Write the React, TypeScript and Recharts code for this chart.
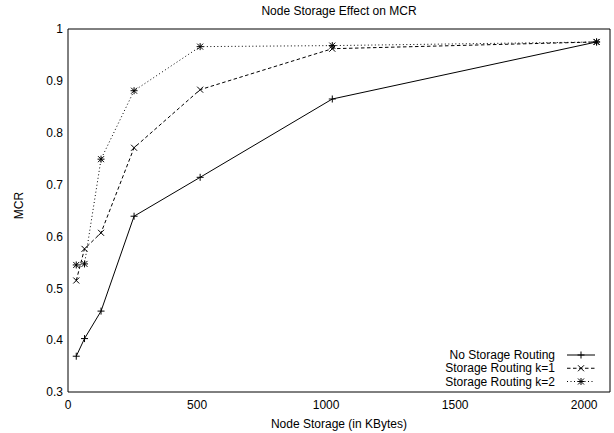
import React from 'react';
import { LineChart, Line, XAxis, YAxis, Legend } from 'recharts';

// node storage sizes (KBytes)
const storage = [32, 64, 128, 256, 512, 1024, 2048];
const noRouting = [0.369, 0.403, 0.456, 0.639, 0.714, 0.865, 0.975];
const routingK1 = [0.515, 0.576, 0.607, 0.771, 0.883, 0.962, 0.975];
const routingK2 = [0.545, 0.547, 0.749, 0.881, 0.966, 0.968, 0.975];

const xTicks = [0, 500, 1000, 1500, 2000];
const yTicks = [0.3, 0.4, 0.5, 0.6, 0.7, 0.8, 0.9, 1];
const xDomain = [0, 2100];
const yDomain = [0.3, 1];

const data = storage.map((s, i) => ({
  storage: s,
  none: noRouting[i],
  k1: routingK1[i],
  k2: routingK2[i],
}));

const FONT = '"Liberation Sans", Arial, Helvetica, sans-serif';

const drawPlus = (cx: number, cy: number, key?: any) => (
  <g key={key}>
    <line x1={cx - 3.5} x2={cx + 3.5} y1={cy} y2={cy} stroke="#000" />
    <line x1={cx} x2={cx} y1={cy - 3.5} y2={cy + 3.5} stroke="#000" />
  </g>
);

const drawCross = (cx: number, cy: number, key?: any) => (
  <g key={key}>
    <line x1={cx - 3} x2={cx + 3} y1={cy - 3} y2={cy + 3} stroke="#000" />
    <line x1={cx - 3} x2={cx + 3} y1={cy + 3} y2={cy - 3} stroke="#000" />
  </g>
);

const drawStar = (cx: number, cy: number, key?: any) => (
  <g key={key}>
    {drawPlus(cx, cy)}
    {drawCross(cx, cy)}
  </g>
);

// each series sits on its own pair of axes (all share the same domain),
// so the mirrored frame axes have data and draw the gnuplot-style box
const series = [
  { key: 'none', name: 'No Storage Routing', dash: undefined as string | undefined, marker: drawPlus, xId: 'main', yId: 'main' },
  { key: 'k1', name: 'Storage Routing k=1', dash: '3.5 2.5', marker: drawCross, xId: 'bottomFrame', yId: 'leftFrame' },
  { key: 'k2', name: 'Storage Routing k=2', dash: '1 2.5', marker: drawStar, xId: 'topFrame', yId: 'rightFrame' },
];

const renderLegend = (props: any) => {
  const payload = props.payload || [];
  return (
    <svg width={300} height={42} style={{ fontFamily: FONT }}>
      {payload.map((p: any, i: number) => {
        const s = series.find((x) => x.name === p.value) || series[i];
        const y = 7 + 13.25 * i;
        return (
          <g key={s.key}>
            <text x={255} y={y} textAnchor="end" dominantBaseline="central" fontSize={12} fill="#000">
              {s.name}
            </text>
            <line x1={267} x2={295} y1={y} y2={y} stroke="#000" strokeDasharray={s.dash} />
            {s.marker(281, y)}
          </g>
        );
      })}
    </svg>
  );
};

export default function App() {
  return (
    <div style={{ position: 'absolute', left: 0, top: 0, width: 614, height: 433, background: '#fff', fontFamily: FONT }}>
      <div
        style={{
          position: 'absolute',
          left: 68,
          width: 542,
          top: 4,
          lineHeight: '14px',
          fontSize: 12,
          textAlign: 'center',
          color: '#000',
        }}
      >
        Node Storage Effect on MCR
      </div>
      <LineChart
        width={614}
        height={433}
        data={data}
        margin={{ top: 29, right: 4, bottom: 0, left: 0 }}
        style={{ fontFamily: FONT }}
      >
        {/* labelled axes */}
        <XAxis
          xAxisId="main"
          dataKey="storage"
          type="number"
          domain={xDomain}
          ticks={xTicks}
          allowDataOverflow
          height={41}
          axisLine={false}
          tickLine={false}
          tickSize={0}
          tickMargin={8}
          tick={{ fill: '#000', fontSize: 12 }}
          label={{ value: 'Node Storage (in KBytes)', position: 'insideBottom', offset: 5, fill: '#000', fontSize: 12 }}
        />
        <YAxis
          yAxisId="main"
          type="number"
          domain={yDomain}
          ticks={yTicks}
          allowDataOverflow
          width={68}
          axisLine={false}
          tickLine={false}
          tickSize={0}
          tickMargin={5}
          tick={{ fill: '#000', fontSize: 12 }}
          label={{
            value: 'MCR',
            angle: -90,
            position: 'insideLeft',
            offset: 19,
            dy: -5,
            fill: '#000',
            fontSize: 12,
            style: { textAnchor: 'middle' },
          }}
        />
        {/* frame axes with inward ticks */}
        <XAxis
          xAxisId="bottomFrame"
          dataKey="storage"
          orientation="bottom"
          mirror
          type="number"
          domain={xDomain}
          ticks={xTicks}
          allowDataOverflow
          height={1}
          stroke="#000"
          tickSize={6}
          tick={false}
        />
        <XAxis
          xAxisId="topFrame"
          dataKey="storage"
          orientation="top"
          mirror
          type="number"
          domain={xDomain}
          ticks={xTicks}
          allowDataOverflow
          height={1}
          stroke="#000"
          tickSize={6}
          tick={false}
        />
        <YAxis
          yAxisId="leftFrame"
          orientation="left"
          mirror
          type="number"
          domain={yDomain}
          ticks={yTicks}
          allowDataOverflow
          width={1}
          stroke="#000"
          tickSize={6}
          tick={false}
        />
        <YAxis
          yAxisId="rightFrame"
          orientation="right"
          mirror
          type="number"
          domain={yDomain}
          ticks={yTicks}
          allowDataOverflow
          width={1}
          stroke="#000"
          tickSize={6}
          tick={false}
        />
        <Legend
          layout="vertical"
          align="center"
          verticalAlign="middle"
          content={renderLegend}
          wrapperStyle={{ left: 300, top: 348, width: 300, height: 42 }}
        />
        {series.map((s) => (
          <Line
            key={s.key}
            xAxisId={s.xId}
            yAxisId={s.yId}
            type="linear"
            dataKey={s.key}
            name={s.name}
            stroke="#000"
            strokeWidth={1}
            strokeDasharray={s.dash}
            dot={(p: any) => s.marker(p.cx, p.cy, p.index)}
            activeDot={false}
            legendType="line"
            isAnimationActive={false}
          />
        ))}
      </LineChart>
    </div>
  );
}
